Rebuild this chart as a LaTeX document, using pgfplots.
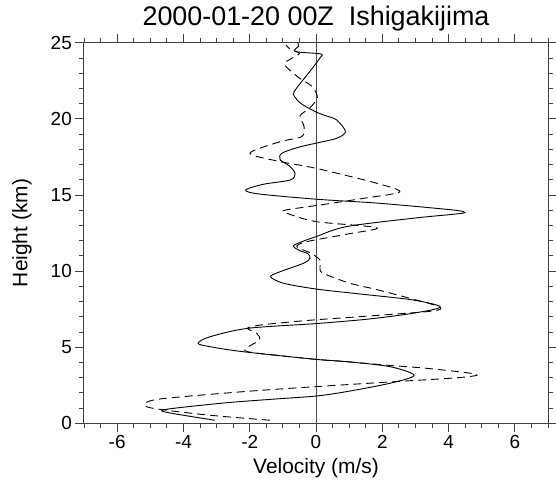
\documentclass[border=0pt]{standalone}
\usepackage{fontspec}
\setmainfont{Liberation Sans}
\usepackage{pgfplots}
\pgfplotsset{compat=1.18}
\begin{document}
\begin{tikzpicture}
\useasboundingbox (-84bp,-65.7bp) rectangle (472bp,423.3bp);
\begin{axis}[
  at={(0,0)}, anchor=south west,
  scale only axis, width=464bp, height=380.6bp,
  xmin=-7, xmax=7, ymin=0, ymax=25,
  xtick={-6,-4,...,6}, minor xtick={-7,-6.5,...,7},
  ytick={0,5,...,25}, minor ytick={0,1,...,25},
  tick align=outside,
  major tick length=9bp, minor tick length=5bp,
  axis line style={black!75, line width=1bp},
  every tick/.style={black!75, line width=0.8bp},
  /pgf/number format/assume math mode=true,
  tick label style={font=\fontsize{19}{22}\selectfont},
  xticklabel style={inner sep=2.5bp},
  yticklabel style={inner sep=3bp},
  title style={font=\fontsize{27}{31}\selectfont, at={(axis description cs:0.5,1.0289)}, anchor=base},
  title={2000-01-20 00Z~~Ishigakijima},
  xlabel={Velocity (m/s)},
  ylabel={Height (km)},
  every axis x label/.style={at={(axis description cs:0.5,-0.1314)}, anchor=base, font=\fontsize{21}{25}\selectfont},
  every axis y label/.style={at={(axis description cs:-0.1336,0.5)}, rotate=90, anchor=center, font=\fontsize{21}{25}\selectfont},
]
\addplot[black!70, line width=0.9bp] coordinates {(0,0) (0,25)};
\addplot[black, line width=0.9bp, smooth, tension=0.5] coordinates {
(-3.05,0.2) (-4.2,0.6) (-4.65,0.81) (-4.35,0.97) (-2.7,1.35) (-1.2,1.6) (0,1.79)
(0.92,2.08) (2.23,2.63) (2.96,3.15) (2.23,3.72) (0.92,4.05) (0,4.2) (-2.19,4.7)
(-3.19,5.03) (-3.56,5.26) (-3.19,5.69) (-2.05,6.24) (0,6.55) (1.6,6.85) (2.93,7.23)
(3.75,7.64) (2.93,8.1) (1.3,8.5) (0,8.82) (-0.98,9.2) (-1.37,9.63)
(-1.08,9.96) (-0.38,10.51) (-0.18,10.84) (-0.25,11.15) (-0.5,11.35) (-0.68,11.65)
(-0.4,11.95) (0,12.26) (0.92,12.92) (2.93,13.47) (4.14,13.73) (4.49,13.84)
(4.14,14.01) (1.93,14.45) (0,14.72) (-1.74,15.07) (-2.12,15.33) (-1.59,15.7)
(-0.78,15.98) (-0.63,16.4) (-0.8,16.9) (-1.08,17.3) (-1.03,17.74) (-0.5,18.15)
(0,18.4) (0.62,18.72) (0.89,19.16) (0.62,19.93) (0.3,20.2) (0,20.45) (-0.45,21.0)
(-0.68,21.6) (-0.58,22.03) (-0.18,23.13) (0.12,24.0) (0.14,24.26) (-0.63,24.42)
(-0.53,24.77) (-0.55,25.0)
};
\addplot[black, line width=0.9bp, dash pattern=on 8bp off 5bp, smooth, tension=0.5] coordinates {
(-1.39,0.2) (-3.3,0.55) (-4.9,0.98) (-5.17,1.25) (-4.7,1.6) (-2.19,2.08) (0,2.41)
(2.33,2.73) (4.3,3.0) (4.84,3.22) (3.4,3.6) (2.23,3.8) (0.9,4.05) (0,4.2)
(-1.1,4.45) (-2.14,4.77) (-1.71,5.47) (-1.79,5.91) (-2.07,6.24) (-1.69,6.45)
(-0.8,6.65) (0,6.8) (1.8,7.08) (3.53,7.38) (3.71,7.66) (2.73,8.27) (1.8,8.8)
(1.02,9.2) (0.22,9.85) (0.12,10.18) (0.12,10.73) (-0.18,11.2) (-0.58,11.6)
(-0.28,11.93) (1.0,12.45) (1.83,12.85) (0,13.25) (-0.88,13.8) (-0.93,14.0)
(0.12,14.34) (1.5,14.8) (2.53,15.2) (1.83,15.77) (0,16.75) (-1.08,17.19)
(-1.99,17.74) (-1.08,18.5) (-0.43,18.83) (-0.36,19.49) (-0.48,20.2) (-0.18,20.72)
(0.04,21.42) (-0.13,22.14) (-0.51,22.69) (-0.95,23.56) (-0.75,23.95) (-0.5,24.3)
(-0.8,24.6) (-0.9,24.85)
};
\end{axis}
\end{tikzpicture}
\end{document}
